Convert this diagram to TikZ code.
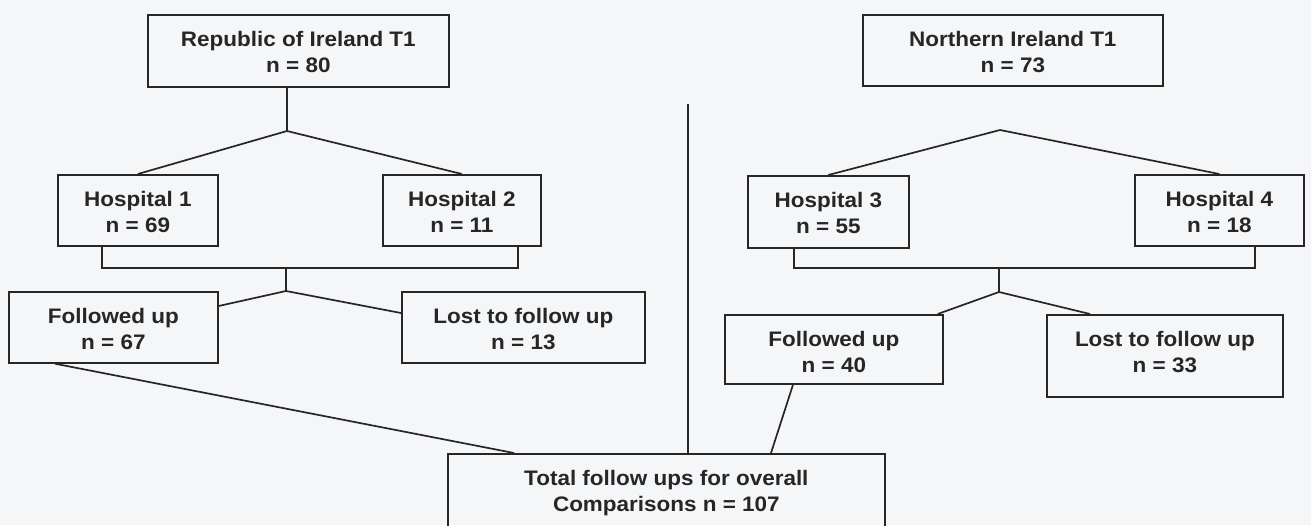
\documentclass[tikz,border=0pt]{standalone}
\usepackage{fontspec}
\setmainfont{Liberation Sans}[FakeStretch=1.07]
\usetikzlibrary{calc}
\definecolor{ink}{RGB}{38,38,38}
\definecolor{paper}{RGB}{245,246,248}
% box content: width, height, two centred lines hanging from the top edge
\newcommand{\flowtext}[3]{\parbox[c][#2pt][t]{#1pt}{\centering\rule{0pt}{32pt}#3}}

\begin{document}
\begin{tikzpicture}[x=1pt,y=-1pt,
  flowbox/.style={draw=ink, line width=1.7pt, inner sep=0pt, anchor=north west,
    text=ink, font=\bfseries\fontsize{21}{26}\selectfont},
  link/.style={draw=ink, line width=1.7pt}]
\clip (0,0) rectangle (1311,525);
\fill[paper] (0,0) rectangle (1311,525);

% boxes
\node[flowbox] (roi)   at (147,14)   {\flowtext{301}{72}{Republic of Ireland T1\\n = 80}};
\node[flowbox] (ni)    at (862,14)   {\flowtext{300}{71}{Northern Ireland T1\\n = 73}};
\node[flowbox] (h1)    at (57,174)   {\flowtext{160}{71}{Hospital 1\\n = 69}};
\node[flowbox] (h2)    at (382,174)  {\flowtext{158}{71}{Hospital 2\\n = 11}};
\node[flowbox] (h3)    at (747,175)  {\flowtext{161}{72}{Hospital 3\\n = 55}};
\node[flowbox] (h4)    at (1134,174) {\flowtext{169}{71}{Hospital 4\\n = 18}};
\node[flowbox] (fu1)   at (8,291)    {\flowtext{209}{71}{Followed up\\n = 67}};
\node[flowbox] (lost1) at (401,291)  {\flowtext{243}{71}{Lost to follow up\\n = 13}};
\node[flowbox] (fu2)   at (724,314)  {\flowtext{218}{69}{Followed up\\n = 40}};
\node[flowbox] (lost2) at (1046,314) {\flowtext{236}{82}{Lost to follow up\\n = 33}};
\node[flowbox] (tot)   at (447,453)  {\flowtext{437}{100}{Total follow ups for overall\\Comparisons n = 107}};

% junction points
\coordinate (a1) at (287,131);
\coordinate (a2) at (1000,130);
\coordinate (k1) at (286,268);
\coordinate (b1) at (286,291);
\coordinate (k2) at (999,268);
\coordinate (b2) at (999,292);
\coordinate (d)  at (688,104);

% Republic of Ireland branch
\draw[link] (roi.south -| a1) -- (a1);
\draw[link] (a1) -- (h1.north);
\draw[link] (a1) -- (h2.north);
\draw[link] ([xshift=-36pt]h1.south) |- (k1) -| ([xshift=56pt]h2.south);
\draw[link] (k1) -- (b1);
\draw[link] (b1) -- ($(fu1.north east)+(0,15)$);
\draw[link] (b1) -- ($(lost1.north west)+(0,22)$);

% Northern Ireland branch
\draw[link] (a2) -- (h3.north);
\draw[link] (a2) -- (h4.north);
\draw[link] ([xshift=-34.5pt]h3.south) |- (k2) -| ([xshift=35.5pt]h4.south);
\draw[link] (k2) -- (b2);
\draw[link] (b2) -- ([xshift=-6pt]fu2.north east);
\draw[link] (b2) -- ([xshift=44pt]lost2.north west);

% into the overall total
\draw[link] ([xshift=47pt]fu1.south west) -- ([xshift=67pt]tot.north west);
\draw[link] ([xshift=69pt]fu2.south west) -- ([xshift=324pt]tot.north west);

% divider between the two regions
\draw[link] (d) -- (tot.north -| d);
\end{tikzpicture}
\end{document}
